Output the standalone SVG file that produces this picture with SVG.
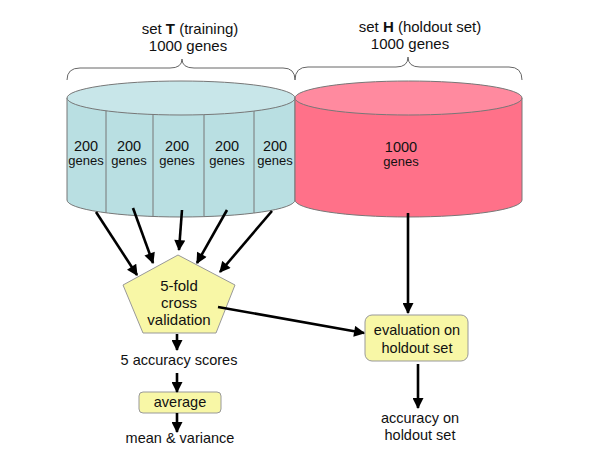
<svg xmlns="http://www.w3.org/2000/svg" width="600" height="450" viewBox="0 0 600 450">
<style>
text{font-family:"Liberation Sans",Arial,sans-serif;fill:#111;text-anchor:middle}
.t{font-size:15px}
.n{font-size:14.5px}
.g{font-size:13px}
.brace{fill:none;stroke:#666;stroke-width:1}
.edge{fill:none;stroke:#000;stroke-width:2.6;marker-end:url(#ah)}
.box{fill:#f8f7a6;stroke:#999;stroke-width:1}
</style>
<defs>
<marker id="ah" viewBox="0 0 10 10" refX="9" refY="5" markerWidth="12" markerHeight="11" markerUnits="userSpaceOnUse" orient="auto">
<path d="M0,0 L10,5 L0,10 Z" fill="#000"/>
</marker>
</defs>
<rect width="600" height="450" fill="#fff"/>
<g id="braces">
<path class="brace" d="M67,80 Q67,68 80,68 L170,68 Q182,68 182,59 Q182,68 194,68 L283,68 Q295,68 295,80"/>
<path class="brace" d="M295,80 Q295,67 308,67 L396,67 Q408,67 408,57 Q408,67 420,67 L509,67 Q522,67 522,80"/>
</g>
<g id="labelT">
<text class="t" x="190" y="34">set <tspan font-weight="bold">T</tspan> (training)</text>
<text class="t" x="188" y="51">1000 genes</text>
</g>
<g id="labelH">
<text class="t" x="420" y="32">set <tspan font-weight="bold">H</tspan> (holdout set)</text>
<text class="t" x="410" y="49">1000 genes</text>
</g>
<g id="setT">
<path d="M67,98 L67,200 A114,17 0 0 0 295,200 L295,98 Z" fill="#b9dfe2" stroke="#777" stroke-width="1"/>
<ellipse cx="181" cy="98" rx="114" ry="17" fill="#c8e6e9" stroke="#777" stroke-width="1"/>
<g stroke="#777" stroke-width="1">
<line x1="106" y1="110.8" x2="106" y2="212.8"/>
<line x1="153" y1="114.5" x2="153" y2="216.5"/>
<line x1="204" y1="114.7" x2="204" y2="216.7"/>
<line x1="254" y1="111.1" x2="254" y2="213.1"/>
</g>
<text class="n" x="86" y="151">200</text><text class="g" x="86" y="165">genes</text>
<text class="n" x="129" y="151">200</text><text class="g" x="129" y="165">genes</text>
<text class="n" x="177" y="151">200</text><text class="g" x="177" y="165">genes</text>
<text class="n" x="227" y="151">200</text><text class="g" x="227" y="165">genes</text>
<text class="n" x="275" y="151">200</text><text class="g" x="275" y="165">genes</text>
</g>
<g id="setH">
<path d="M295,98 L295,200 A113.5,17 0 0 0 522,200 L522,98 Z" fill="#ff7189" stroke="#777" stroke-width="1"/>
<ellipse cx="408.5" cy="98" rx="113.5" ry="17" fill="#ff8a9f" stroke="#777" stroke-width="1"/>
<text class="n" x="401" y="152">1000</text>
<text class="g" x="401" y="166">genes</text>
</g>
<g id="cv">
<polygon class="box" points="178,255 235,285 216,333 143,333 123,285"/>
<text class="t" x="179" y="291">5-fold</text>
<text class="t" x="179" y="308">cross</text>
<text class="t" x="179" y="325">validation</text>
</g>
<g id="scores"><text class="n" x="179" y="365">5 accuracy scores</text></g>
<g id="average">
<rect class="box" x="139" y="392" width="82" height="21" rx="4"/>
<text class="n" x="180" y="407">average</text>
</g>
<g id="meanvar"><text class="n" x="180" y="443">mean &amp; variance</text></g>
<g id="eval">
<rect class="box" x="365" y="315" width="103" height="46" rx="7"/>
<text class="n" x="417" y="335">evaluation on</text>
<text class="n" x="417" y="353">holdout set</text>
</g>
<g id="accH">
<text class="n" x="420" y="423">accuracy on</text>
<text class="n" x="420" y="440">holdout set</text>
</g>
<g id="connectors">
<line class="edge" x1="96" y1="212" x2="137" y2="275"/>
<line class="edge" x1="133" y1="208" x2="153" y2="263"/>
<line class="edge" x1="182" y1="210" x2="179" y2="250"/>
<line class="edge" x1="227" y1="210" x2="197" y2="263"/>
<line class="edge" x1="272" y1="211" x2="220" y2="272"/>
<line class="edge" x1="408" y1="213" x2="408" y2="313"/>
<line class="edge" x1="218" y1="307" x2="364" y2="333"/>
<line class="edge" x1="418" y1="364" x2="418" y2="408"/>
<line class="edge" x1="177" y1="334" x2="177" y2="350"/>
<line class="edge" x1="177" y1="373" x2="177" y2="392"/>
<line class="edge" x1="177" y1="413" x2="177" y2="432"/>
</g>
</svg>
